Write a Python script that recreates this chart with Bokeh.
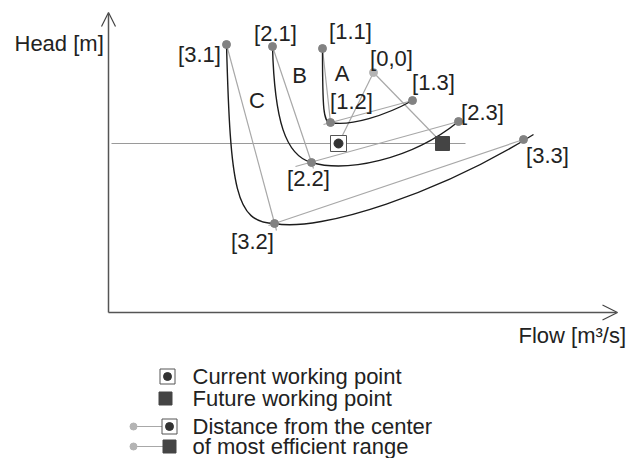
from bokeh.plotting import figure
from bokeh.models import Range1d, ColumnDataSource, Arrow, OpenHead
from bokeh.core.properties import value
from bokeh.embed import file_html
from bokeh.resources import INLINE

# ---------------- data (schematic units: flow, head) ----------------
point_names = ["[3.1]", "[2.1]", "[1.1]", "[1.3]", "[1.2]", "[2.3]", "[3.3]", "[2.2]", "[3.2]"]
point_flow = [118, 164, 214, 304, 222, 350, 415, 203, 166]
point_head = [268, 266, 264, 212, 190, 191, 173, 150, 89]

center_name = "[0,0]"
center_flow = [265]
center_head = [240]

current_flow = [230]
current_head = [169]
future_flow = [334]
future_head = [169]

working_head = 169
working_flow_range = [3, 357]

# pump curves as cubic Bezier pieces (start, control 1, control 2, end)
curve_x0 = [214, 222, 164, 203, 118, 166]
curve_y0 = [264, 190, 266, 150, 268, 89]
curve_cx0 = [214, 242, 166, 237, 122, 212]
curve_cy0 = [202, 186, 192, 140, 122, 80]
curve_cx1 = [215, 277, 177, 302, 127, 332]
curve_cy1 = [190, 197, 157, 152, 90, 120]
curve_x1 = [222, 304, 203, 350, 166, 425]
curve_y1 = [190, 212, 150, 191, 89, 178]

curve_names = ["A", "B", "C"]
curve_name_flow = [233.5, 191, 148.5]
curve_name_head = [239.5, 237, 212.5]

# straight gray construction lines
gray_x0 = [214, 215, 164, 187, 118, 160, 265, 265]
gray_y0 = [264, 188, 266, 146, 268, 87, 240, 240]
gray_x1 = [222, 304, 205, 350, 168, 415, 230, 334]
gray_y1 = [190, 212, 144, 191, 82, 173, 169, 169]

flow_axis_end = 509
head_axis_end = 300

head_title = "Head [m]"
flow_title = "Flow [m³/s]"
legend_texts = ["Current working point", "Future working point",
                "Distance from the center", "of most efficient range"]

# ---------------- layout / style ----------------
FONT = value("Liberation Sans")
FS = "22px"
TXT = "#222222"
GRAY = "#a8a8a8"
DOT = "#828282"

label_dx = [-27, 3, 28, 21, 21, 24, 24, -3, -22]
label_dy = [10, -13, -17, -18, -21, -9, 16, 16, 18]
center_dx = [18]
center_dy = [-14]

p = figure(width=627, height=458,
           x_range=Range1d(-108, 519), y_range=Range1d(-146, 312),
           output_backend="svg", toolbar_location=None,
           x_axis_type=None, y_axis_type=None, min_border=0,
           outline_line_color=None)
p.background_fill_color = "white"
p.border_fill_color = "white"

# axes with open arrow heads
p.add_layout(Arrow(end=OpenHead(size=14, line_color="#444444", line_width=1.2),
                   x_start=0, y_start=0, x_end=0, y_end=head_axis_end,
                   line_color="#555555", line_width=1.5))
p.add_layout(Arrow(end=OpenHead(size=15, line_color="#444444", line_width=1.2),
                   x_start=0, y_start=0, x_end=flow_axis_end, y_end=0,
                   line_color="#555555", line_width=1.5))

# working head line
p.line(x=working_flow_range, y=[working_head, working_head], line_color="#9a9a9a", line_width=1.2)

# gray construction lines
p.segment(x0=gray_x0, y0=gray_y0, x1=gray_x1, y1=gray_y1, line_color=GRAY, line_width=1.2)

# pump curves
csrc = ColumnDataSource(dict(x0=curve_x0, y0=curve_y0, x1=curve_x1, y1=curve_y1,
                             cx0=curve_cx0, cy0=curve_cy0, cx1=curve_cx1, cy1=curve_cy1))
p.bezier(x0="x0", y0="y0", x1="x1", y1="y1", cx0="cx0", cy0="cy0", cx1="cx1", cy1="cy1",
         source=csrc, line_color="#1c1c1c", line_width=1.4)

# points
p.scatter(point_flow, point_head, marker="circle", size=8, fill_color=DOT, line_color=DOT)
p.scatter(center_flow, center_head, marker="circle", size=8, fill_color="#b4b4b4", line_color="#b4b4b4")

# working points
p.scatter(current_flow, current_head, marker="square", size=16, fill_color="white",
          line_color="#555555", line_width=1)
p.scatter(current_flow, current_head, marker="circle", size=9, fill_color="#333333", line_color="#333333")
p.scatter(future_flow, future_head, marker="square", size=14, fill_color="#444444", line_color="#444444")

# point labels
lsrc = ColumnDataSource(dict(x=point_flow, y=point_head, t=point_names, dx=label_dx, dy=label_dy))
p.text(x="x", y="y", text="t", x_offset="dx", y_offset="dy", source=lsrc,
       text_font=FONT, text_font_size=FS, text_color=TXT,
       text_align="center", text_baseline="middle")
p.text(x=center_flow, y=center_head, text=[center_name], x_offset=center_dx, y_offset=center_dy,
       text_font=FONT, text_font_size=FS, text_color=TXT,
       text_align="center", text_baseline="middle")
p.text(x=curve_name_flow, y=curve_name_head, text=curve_names,
       text_font=FONT, text_font_size=FS, text_color=TXT,
       text_align="center", text_baseline="middle")

# axis titles
p.text(x=[-94], y=[269], text=[head_title], text_font=FONT, text_font_size=FS,
       text_color=TXT, text_align="left", text_baseline="middle")
p.text(x=[410], y=[-23], text=[flow_title], text_font=FONT, text_font_size=FS,
       text_color=TXT, text_align="left", text_baseline="middle")

# legend (drawn below the chart)
row_y = [-64, -86, -114, -134]
p.text(x=[84] * 4, y=row_y, text=legend_texts, text_font=FONT, text_font_size=FS,
       text_color=TXT, text_align="left", text_baseline="middle")

# row 1: current working point symbol
p.scatter([59], [row_y[0]], marker="square", size=15, fill_color="white", line_color="#555555")
p.scatter([59], [row_y[0]], marker="circle", size=8, fill_color="#333333", line_color="#333333")
# row 2: future working point symbol
p.scatter([57], [row_y[1]], marker="square", size=13, fill_color="#444444", line_color="#444444")
# row 3 / 4: distance symbols
p.segment(x0=[25, 25], y0=row_y[2:], x1=[54, 55], y1=row_y[2:], line_color=GRAY, line_width=1.2)
p.scatter([25, 25], row_y[2:], marker="circle", size=7, fill_color="#b4b4b4", line_color="#b4b4b4")
p.scatter([61], [row_y[2]], marker="square", size=15, fill_color="white", line_color="#555555")
p.scatter([61], [row_y[2]], marker="circle", size=8, fill_color="#333333", line_color="#333333")
p.scatter([61], [row_y[3]], marker="square", size=13, fill_color="#444444", line_color="#444444")

open("out.html", "w").write(file_html(p, INLINE))
